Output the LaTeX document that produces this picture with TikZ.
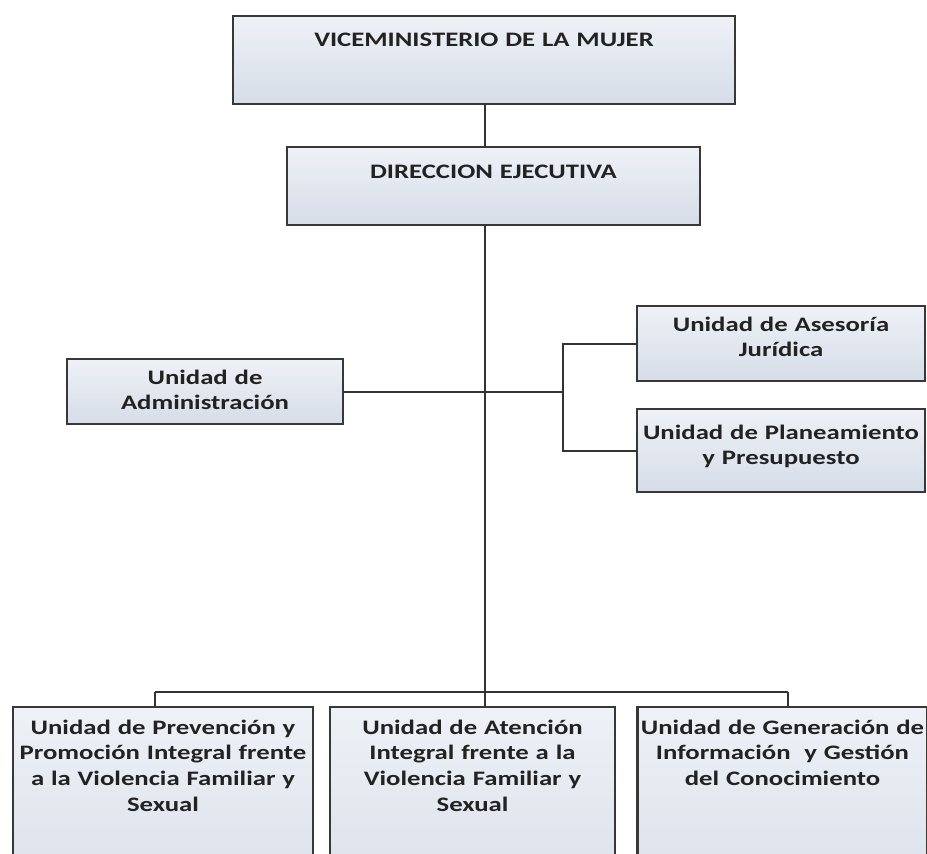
\documentclass[tikz,border=0pt]{standalone}
\usepackage{fontspec}
\setmainfont{Carlito}[FakeStretch=1.3]
\definecolor{boxline}{HTML}{383838}
\definecolor{boxtop}{HTML}{EEF1F6}
\definecolor{boxbot}{HTML}{D6DDE8}
\definecolor{linkcol}{HTML}{333333}
\definecolor{txt}{HTML}{222222}

\begin{document}
\begin{tikzpicture}[x=0.2mm, y=-0.2mm,
  unit/.style={draw=boxline, line width=1.3pt, top color=boxtop, bottom color=boxbot,
    anchor=north, align=center, inner xsep=0pt, inner ysep=0pt, text=txt,
    font=\fontsize{11.7}{14.6}\selectfont\bfseries},
  link/.style={draw=linkcol, line width=1.1pt}]
  \useasboundingbox (0,0) rectangle (927,853);
  \clip (0,0) rectangle (927,853);

  \node[unit, text width=100.4mm, text height=6mm, text depth=11.6mm] (VM) at (484,15) {VICEMINISTERIO DE LA MUJER};
  \node[unit, text width=82.6mm, text height=6.2mm, text depth=9.4mm] (DE) at (493.5,146) {DIRECCION EJECUTIVA};
  \node[unit, text width=55.2mm, text height=5mm, text depth=8mm] (UA) at (205,358) {Unidad de\\Administración};
  \node[unit, text width=57.6mm, text height=5mm, text depth=10mm] (UAJ) at (781,305) {Unidad de Asesoría\\Jurídica};
  \node[unit, text width=57.6mm, text height=6mm, text depth=10.6mm] (UPP) at (781,408) {Unidad de Planeamiento\\y Presupuesto};
  \node[unit, text width=60mm, text height=5.4mm, text depth=40mm] (UPV) at (163,706) {Unidad de Prevención y\\Promoción Integral frente\\a la Violencia Familiar y\\Sexual};
  \node[unit, text width=57mm, text height=5.4mm, text depth=40mm] (UAV) at (472.5,706) {Unidad de Atención\\Integral frente a la\\Violencia Familiar y\\Sexual};
  \node[unit, text width=58mm, text height=5.4mm, text depth=40mm] (UGC) at (782.5,706) {Unidad de Generación de\\Información~ y Gestión\\del Conocimiento};

  % trunk and branches
  \coordinate (bus) at (485,692);
  \coordinate (busL) at (155,692);
  \coordinate (busR) at (788,692);
  \coordinate (brkx) at (563,0);
  \coordinate (brk) at (UA.east -| brkx);

  \draw[link] (VM.south -| bus) -- (DE.north -| bus);
  \draw[link] (DE.south -| bus) -- (bus);
  \draw[link] (UA.east) -- (brk);
  \draw[link] (UAJ.west) -| (brk) |- (UPP.west);
  \draw[link] (busL) -- (busR);
  \draw[link] (busL) -- (UPV.north -| busL);
  \draw[link] (bus) -- (UAV.north -| bus);
  \draw[link] (busR) -- (UGC.north -| busR);
\end{tikzpicture}
\end{document}
